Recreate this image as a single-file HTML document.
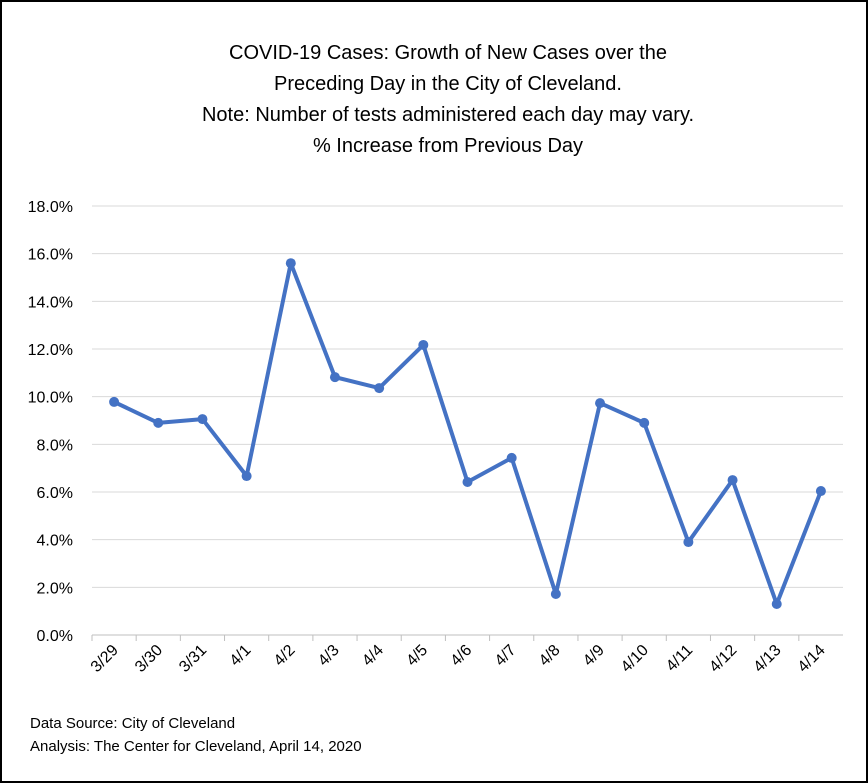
<!DOCTYPE html>
<html><head><meta charset="utf-8"><style>
body{margin:0;background:#fff;}
svg{display:block;font-family:"Liberation Sans",Arial,sans-serif;}
</style></head><body>
<svg id="chart" width="868" height="783">
<rect x="1" y="1" width="866" height="781" fill="#fff" stroke="#000" stroke-width="2"/>
<g font-size="20" fill="#000" text-anchor="middle">
<text x="448" y="59">COVID-19 Cases:  Growth of New Cases over the</text>
<text x="448" y="90">Preceding Day in the City of Cleveland.</text>
<text x="448" y="121">Note: Number of tests administered each day may vary.</text>
<text x="448" y="152">% Increase from Previous Day</text>
</g>
<g id="grid"></g>
<g id="yaxis"></g>
<g id="xaxis"></g>
<g id="series"></g>
<g font-size="15" fill="#000">
<text x="30" y="728">Data Source:  City of Cleveland</text>
<text x="30" y="751">Analysis: The Center for Cleveland, April 14, 2020</text>
</g>
</svg>
<script>
const categories=["3/29","3/30","3/31","4/1","4/2","4/3","4/4","4/5","4/6","4/7","4/8","4/9","4/10","4/11","4/12","4/13","4/14"];
const values=[9.78,8.9,9.06,6.67,15.6,10.82,10.36,12.17,6.42,7.43,1.72,9.73,8.9,3.9,6.5,1.3,6.04];
const yTicks=[0,2,4,6,8,10,12,14,16,18];
const NS="http://www.w3.org/2000/svg";
const L=92,R=843,T=206,B=635,yMax=18;
const step=(R-L)/categories.length;
const x=i=>L+step*(i+0.5);
const y=v=>B-(v/yMax)*(B-T);
function mk(tag,attrs,parent){const e=document.createElementNS(NS,tag);for(const k in attrs)e.setAttribute(k,attrs[k]);parent.appendChild(e);return e;}
const grid=document.getElementById('grid'),ya=document.getElementById('yaxis'),xa=document.getElementById('xaxis'),se=document.getElementById('series');
yTicks.forEach(t=>{
 const ln=mk('line',{x1:L,x2:R,y1:y(t),y2:y(t),stroke:t===0?'#bfbfbf':'#d9d9d9','stroke-width':1},grid);
 
 
 const tx=mk('text',{x:73,y:y(t)+6,'text-anchor':'end','font-size':16,fill:'#000'},ya);
 tx.textContent=t.toFixed(1)+'%';
 
 
});
categories.forEach((c,i)=>{
 const tk=mk('line',{x1:L+step*i,x2:L+step*i,y1:B,y2:B+6,stroke:'#bfbfbf'},xa);
 
 
 const tx=mk('text',{x:x(i)+5,y:B+16,'text-anchor':'end','font-size':16,fill:'#000',transform:`rotate(-45 ${x(i)+5} ${B+16})`},xa);
 tx.textContent=c;
 
 
});
const pl=mk('polyline',{points:values.map((v,i)=>x(i)+','+y(v)).join(' '),fill:'none',stroke:'#4472c4','stroke-width':4,'stroke-linejoin':'round'},se);


values.forEach((v,i)=>{
 const c=mk('circle',{cx:x(i),cy:y(v),r:5,fill:'#4472c4'},se);
 
 
});
</script>
</body></html>
